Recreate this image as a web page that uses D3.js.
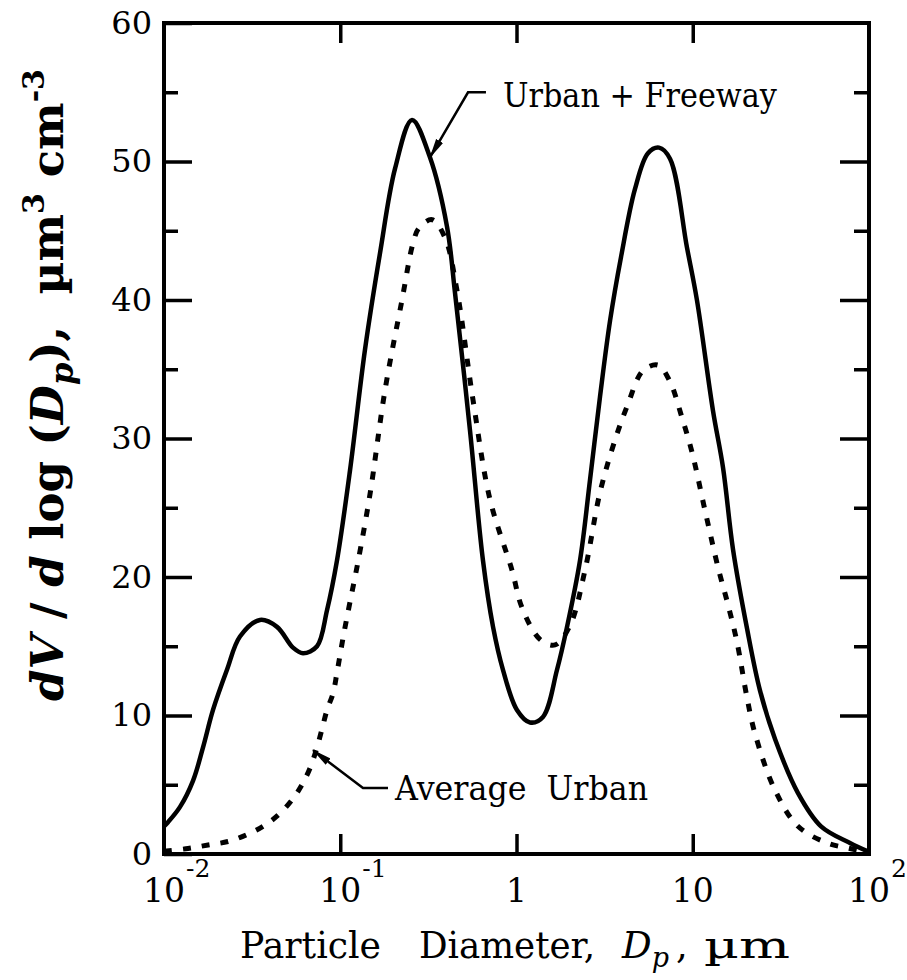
<!DOCTYPE html>
<html>
<head>
<meta charset="utf-8">
<script src="https://cdn.jsdelivr.net/npm/d3@7"></script>
<style>
  body { margin: 0; background: #fff; }
  svg text { font-family: "DejaVu Serif", "Liberation Serif", serif; fill: #000; }
</style>
</head>
<body>
<svg width="907" height="980"></svg>
<script>
// particle diameter (um) and dV/dlogDp values
var urbanFreewayD = [0.0100, 0.01054, 0.01233, 0.01462, 0.01665, 0.01897, 0.02277, 0.02698, 0.03505, 0.04377,
  0.05395, 0.06149, 0.07383, 0.08412, 0.09585, 0.1136, 0.1381, 0.1682, 0.2047, 0.2555,
  0.3228, 0.4033, 0.4479, 0.5445, 0.6452, 0.7360, 0.8380, 1.006, 1.193, 1.413,
  1.698, 1.935, 2.293, 2.612, 2.976, 3.394, 3.917, 4.699, 5.571, 6.438,
  7.430, 9.27, 10.56, 13.03, 14.85, 16.92, 20.31, 24.08, 29.29, 39.55,
  53.43, 78.0, 100];
var urbanFreewayV = [2.0, 2.3, 3.4, 5.3, 7.7, 10.4, 13.3, 15.7, 16.9, 16.4,
  14.9, 14.5, 15.0, 17.6, 21.2, 27.7, 36.4, 43.4, 49.5, 53.0,
  50.3, 45.3, 40.5, 30.6, 21.2, 16.4, 13.3, 10.4, 9.5, 9.9,
  13.3, 16.4, 21.2, 27.0, 33.0, 38.5, 43.1, 48.0, 50.6, 51.0,
  50.2, 43.8, 40.0, 32.0, 27.9, 22.0, 16.3, 11.8, 8.3, 4.4,
  2.0, 0.8, 0.15];

var averageUrbanD = [0.0100, 0.01368, 0.01778, 0.02308, 0.02958, 0.03648, 0.04436, 0.05322, 0.06067, 0.06737,
  0.07383, 0.07872, 0.08412, 0.09099, 0.09585, 0.1037, 0.1136, 0.1261, 0.1476, 0.1795,
  0.2240, 0.2588, 0.2799, 0.3318, 0.3930, 0.4594, 0.5663, 0.7072, 0.9424, 1.074,
  1.359, 1.653, 2.012, 2.448, 2.976, 3.624, 4.236, 5.222, 6.353, 7.430,
  8.690, 9.909, 11.74, 13.91, 15.85, 17.83, 20.31, 22.54, 29.31, 39.55,
  57.8, 78.0, 100];
var averageUrbanV = [0.2, 0.4, 0.65, 0.9, 1.4, 2.0, 2.8, 3.9, 5.0, 6.2,
  7.7, 9.0, 10.4, 11.6, 13.1, 15.6, 18.2, 21.1, 26.0, 33.5,
  40.0, 44.1, 45.2, 45.8, 44.5, 40.7, 32.8, 25.6, 20.5, 17.8,
  15.5, 15.1, 16.5, 20.5, 26.1, 29.9, 32.3, 34.9, 35.3, 34.1,
  31.5, 29.0, 24.8, 20.7, 18.0, 15.3, 11.3, 8.7, 4.6, 2.0,
  0.8, 0.4, 0.1];

var xTicks = [0.01, 0.1, 1, 10, 100];
var xTickBase = ["10", "10", "1", "10", "10"];
var xTickSup = ["-2", "-1", "", "", "2"];
var xInnerTicks = [0.1, 1, 10];
var yTicks = [0, 10, 20, 30, 40, 50, 60];
var yMinorTicks = [5, 15, 25, 35, 45, 55];

// annotation anchors in data units: [D, value]
var freewayLeader = [[0.671, 55.0], [0.531, 55.0], [0.323, 50.3]];
var freewayLabelAt = [0.838, 53.9];
var urbanLeader = [[0.1866, 4.77], [0.1346, 4.77], [0.070, 7.5]];
var urbanLabelAt = [0.2047, 3.9];

var margin = {top: 23, right: 38, bottom: 126, left: 164};
var width = 907, height = 980;

var svg = d3.select("svg");

var x = d3.scaleLog().domain([0.01, 100]).range([margin.left, width - margin.right]);
var y = d3.scaleLinear().domain([0, 60]).range([height - margin.bottom, margin.top]);

svg.append("defs").append("marker")
  .attr("id", "arrow")
  .attr("markerUnits", "userSpaceOnUse")
  .attr("markerWidth", 20).attr("markerHeight", 10)
  .attr("refX", 19).attr("refY", 5)
  .attr("orient", "auto")
  .append("path").attr("d", "M0,1 L20,5 L0,9 Z").attr("fill", "#000");

// curves
var line = d3.line()
  .x(function(d) { return x(d[0]); })
  .y(function(d) { return y(d[1]); })
  .curve(d3.curveCatmullRom.alpha(0.5));

svg.append("path")
  .datum(averageUrbanD.map(function(d, i) { return [d, averageUrbanV[i]]; }))
  .attr("d", line)
  .attr("fill", "none").attr("stroke", "#000")
  .attr("stroke-width", 5).attr("stroke-dasharray", "8,11");

svg.append("path")
  .datum(urbanFreewayD.map(function(d, i) { return [d, urbanFreewayV[i]]; }))
  .attr("d", line)
  .attr("fill", "none").attr("stroke", "#000").attr("stroke-width", 4.5);

// frame
svg.append("rect")
  .attr("x", x(0.01)).attr("y", y(60))
  .attr("width", x(100) - x(0.01)).attr("height", y(0) - y(60))
  .attr("fill", "none").attr("stroke", "#000").attr("stroke-width", 4);

// y axis left with labels
var yAxis = d3.axisLeft(y).tickValues(yTicks).tickSizeInner(-28).tickSizeOuter(0).tickPadding(12);
var gy = svg.append("g").attr("transform", "translate(" + x(0.01) + ",0)").call(yAxis);
gy.select(".domain").remove();
gy.selectAll("line").attr("stroke-width", 3.5);
gy.selectAll("text").attr("font-size", 32).style("font-family", "DejaVu Serif");

var gy2 = svg.append("g").attr("transform", "translate(" + x(0.01) + ",0)")
  .call(d3.axisLeft(y).tickValues(yMinorTicks).tickSizeInner(-14).tickSizeOuter(0).tickFormat(""));
gy2.select(".domain").remove();
gy2.selectAll("line").attr("stroke-width", 3.5);

// y axis right
var gr = svg.append("g").attr("transform", "translate(" + x(100) + ",0)")
  .call(d3.axisRight(y).tickValues(yTicks.slice(1, -1)).tickSizeInner(-29).tickSizeOuter(0).tickFormat(""));
gr.select(".domain").remove();
gr.selectAll("line").attr("stroke-width", 3.5);
var gr2 = svg.append("g").attr("transform", "translate(" + x(100) + ",0)")
  .call(d3.axisRight(y).tickValues(yMinorTicks).tickSizeInner(-15).tickSizeOuter(0).tickFormat(""));
gr2.select(".domain").remove();
gr2.selectAll("line").attr("stroke-width", 3.5);

// x ticks bottom and top
var gb = svg.append("g").attr("transform", "translate(0," + y(0) + ")")
  .call(d3.axisBottom(x).tickValues(xInnerTicks).tickSizeInner(-20).tickSizeOuter(0).tickFormat(""));
gb.select(".domain").remove();
gb.selectAll("line").attr("stroke-width", 3.5);
var gt = svg.append("g").attr("transform", "translate(0," + y(60) + ")")
  .call(d3.axisTop(x).tickValues(xInnerTicks).tickSizeInner(-20).tickSizeOuter(0).tickFormat(""));
gt.select(".domain").remove();
gt.selectAll("line").attr("stroke-width", 3.5);

// x tick labels, base centred on tick, exponent hanging right
xTicks.forEach(function(v, i) {
  var t = svg.append("text")
    .attr("x", x(v)).attr("y", y(0) + 48)
    .attr("text-anchor", "middle").attr("font-size", 33)
    .text(xTickBase[i]);
  if (xTickSup[i]) {
    var w = t.node().getComputedTextLength();
    svg.append("text")
      .attr("x", x(v) + w / 2 + 1).attr("y", y(0) + 23)
      .attr("font-size", 25)
      .text(xTickSup[i]);
  }
});

// x axis title, words placed where the figure has them
svg.append("text").attr("x", 240).attr("y", 958).attr("font-size", 37)
  .attr("textLength", 141).attr("lengthAdjust", "spacingAndGlyphs").text("Particle");
svg.append("text").attr("x", 419).attr("y", 958).attr("font-size", 37)
  .attr("textLength", 176).attr("lengthAdjust", "spacingAndGlyphs").text("Diameter,");
var dp = svg.append("text").attr("x", 622).attr("y", 958).attr("font-size", 37).attr("font-style", "italic");
dp.append("tspan").text("D");
dp.append("tspan").attr("font-size", 27).attr("dy", 9).text("p");
svg.append("text").attr("x", 676).attr("y", 958).attr("font-size", 37).text(",");
svg.append("text").attr("x", 704).attr("y", 958).attr("font-size", 37)
  .attr("textLength", 86).attr("lengthAdjust", "spacingAndGlyphs").text("µm");

// y axis title
var yt = svg.append("text")
  .attr("transform", "translate(63,385) rotate(-90)")
  .attr("text-anchor", "middle")
  .attr("font-size", 45).attr("font-weight", "bold")
  .style("white-space", "pre");
yt.append("tspan").attr("font-style", "italic").text("dV");
yt.append("tspan").text(" / ");
yt.append("tspan").attr("font-style", "italic").text("d");
yt.append("tspan").text(" log (");
yt.append("tspan").attr("font-style", "italic").text("D");
yt.append("tspan").attr("font-style", "italic").attr("font-size", 32).attr("dy", 10).text("p");
yt.append("tspan").attr("dy", -10).text("),  µm");
yt.append("tspan").attr("font-size", 30).attr("dy", -19).text("3");
yt.append("tspan").attr("dy", 19).text(" cm");
yt.append("tspan").attr("font-size", 30).attr("dy", -19).text("-3");

// annotations
function leader(pts) {
  svg.append("path")
    .attr("d", d3.line().x(function(d) { return x(d[0]); }).y(function(d) { return y(d[1]); })(pts))
    .attr("fill", "none").attr("stroke", "#000").attr("stroke-width", 2.5)
    .attr("marker-end", "url(#arrow)");
}
leader(freewayLeader);
leader(urbanLeader);

svg.append("text")
  .attr("x", x(freewayLabelAt[0])).attr("y", y(freewayLabelAt[1]))
  .attr("font-size", 33)
  .attr("textLength", 274).attr("lengthAdjust", "spacingAndGlyphs")
  .text("Urban + Freeway");

svg.append("text")
  .attr("x", x(urbanLabelAt[0])).attr("y", y(urbanLabelAt[1]))
  .attr("font-size", 33)
  .attr("textLength", 253).attr("lengthAdjust", "spacingAndGlyphs")
  .style("white-space", "pre")
  .text("Average  Urban");
</script>
</body>
</html>
